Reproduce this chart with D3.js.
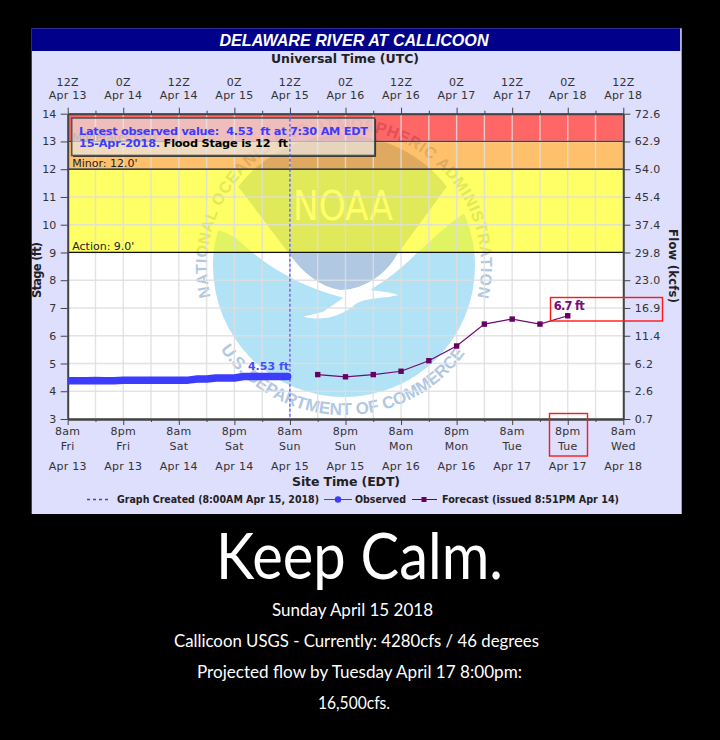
<!DOCTYPE html>
<html><head><meta charset="utf-8">
<script src="https://cdnjs.cloudflare.com/ajax/libs/d3/7.8.5/d3.min.js"></script>
<style>
html,body{margin:0;padding:0;background:#000;overflow:hidden}
svg{display:block}
text{font-family:"DejaVu Sans",sans-serif}
.tk text{font-size:11px;fill:#333}
.tk line,.tk path{stroke:#444}
.b{font-weight:bold}
</style></head><body><div id="c"></div>
<script>
// ---- data ----
const stageTicks=[3,4,5,6,7,8,9,10,11,12,13,14];
const flowLabels=['0.7','2.6','6.2','11.4','16.9','23.0','29.8','37.4','45.4','54.0','62.9','72.6'];
const majorHours=[0,12,24,36,48,60,72,84,96,108,120];
const minorHours=[6,18,30,42,54,66,78,90,102,114];
const utcHourLabels=['12Z','0Z','12Z','0Z','12Z','0Z','12Z','0Z','12Z','0Z','12Z'];
const utcDateLabels=['Apr 13','Apr 14','Apr 14','Apr 15','Apr 15','Apr 16','Apr 16','Apr 17','Apr 17','Apr 18','Apr 18'];
const siteHourLabels=['8am','8pm','8am','8pm','8am','8pm','8am','8pm','8am','8pm','8am'];
const siteDayLabels=['Fri','Fri','Sat','Sat','Sun','Sun','Mon','Mon','Tue','Tue','Wed'];
const siteDateLabels=['Apr 13','Apr 13','Apr 14','Apr 14','Apr 15','Apr 15','Apr 16','Apr 16','Apr 17','Apr 17','Apr 18'];
const observedHours=[0,2,4,6,8,10,12,14,16,18,20,22,24,26,28,30,32,34,36,38,40,42,44,46,47.5];
const observedStage=[4.38,4.38,4.38,4.39,4.38,4.38,4.4,4.4,4.4,4.4,4.4,4.4,4.4,4.4,4.44,4.44,4.48,4.48,4.48,4.53,4.53,4.53,4.53,4.53,4.53];
const forecastHours=[54,60,66,72,78,84,90,96,102,108];
const forecastStage=[4.6,4.52,4.6,4.72,5.1,5.63,6.42,6.6,6.42,6.72];
const bands=[{from:9,to:12,c:'rgba(255,255,0,.6)'},{from:12,to:13,c:'rgba(255,150,10,.6)'},{from:13,to:14,c:'rgba(255,0,0,.6)'}];
const captionLines=['Sunday April 15 2018','Callicoon USGS - Currently: 4280cfs / 46 degrees','Projected flow by Tuesday April 17 8:00pm:','16,500cfs.'];

// ---- layout ----
const W=720,H=740,L=67.7,R=623.3,T=113.7,B=419;
const x=d3.scaleLinear().domain([0,120]).range([L,R]);
const y=d3.scaleLinear().domain([3,14]).range([B,T]);
const svg=d3.select('#c').append('svg').attr('width',W).attr('height',H);
svg.append('rect').attr('width',W).attr('height',H).attr('fill','#000');
svg.append('rect').attr('x',31.7).attr('y',28.3).attr('width',650).attr('height',485.7).attr('fill','#dedefd');
svg.append('rect').attr('x',31.7).attr('y',28.3).attr('width',648.5).attr('height',22.7).attr('fill','#00008a');
svg.append('text').attr('x',354).attr('y',45.5).attr('text-anchor','middle').attr('fill','#fff')
  .style('font-family','"Liberation Sans"').style('font-weight','bold').style('font-style','italic').style('font-size','16px')
  .attr('textLength',269).attr('lengthAdjust','spacingAndGlyphs').text('DELAWARE RIVER AT CALLICOON');
svg.append('text').attr('class','b').attr('x',345).attr('y',63).attr('text-anchor','middle').attr('fill','#222')
  .style('font-size','12.5px').attr('textLength',148).text('Universal Time (UTC)');

// plot background + watermark
svg.append('rect').attr('x',L).attr('y',T).attr('width',R-L).attr('height',B-T).attr('fill','#fff');
const cx=344,cy=266,r=131;
const zp=(a,b)=>[190+a/3,115+b/3];
const P=(a,b)=>zp(a,b).map(v=>v.toFixed(1)).join(',');
const logo=svg.append('g');
logo.append('circle').attr('cx',cx).attr('cy',cy).attr('r',r).attr('fill','#b2e2f5');
logo.append('path').attr('fill','#fff').attr('d',
 `M${P(75,345)} C${P(125,350)} ${P(155,385)} ${P(190,415)} C${P(240,455)} ${P(330,515)} ${P(460,548)}`+
 ` L${P(400,590)} L${P(340,605)} C${P(390,618)} ${P(450,610)} ${P(500,565)} C${P(530,548)} ${P(590,550)} ${P(625,540)}`+
 ` C${P(600,530)} ${P(570,530)} ${P(540,525)} C${P(600,490)} ${P(650,445)} ${P(680,415)} C${P(730,370)} ${P(780,320)} ${P(832,290)}`+
 ` A${r} ${r} 0 0 0 ${P(75,345)} Z`);
logo.append('path').attr('fill','#b0c8e2').attr('d',
 `M${P(145,215)} A${r} ${r} 0 0 1 ${P(770,215)} L${P(620,420)} C${P(580,490)} ${P(510,525)} ${P(450,525)} C${P(390,515)} ${P(340,475)} ${P(300,420)} Z`);
logo.append('text').attr('x',343).attr('y',220).attr('text-anchor','middle').attr('fill','#fff')
  .style('font-family','"DejaVu Sans"').style('font-size','41px')
  .attr('textLength',100).attr('lengthAdjust','spacingAndGlyphs').text('NOAA');
const pt=(ang,rad)=>[cx+rad*Math.cos(ang*Math.PI/180),cy+rad*Math.sin(ang*Math.PI/180)].map(v=>v.toFixed(1)).join(',');
const defs=svg.append('defs');
defs.append('path').attr('id','arcTop').attr('d',`M${pt(167,137)} A137 137 0 1 1 ${pt(14,137)}`);
defs.append('path').attr('id','arcBot').attr('d',`M${pt(146,149)} A149 149 0 0 0 ${pt(35,149)}`);
defs.append('clipPath').attr('id','plot').append('rect').attr('x',L).attr('y',T).attr('width',R-L+4).attr('height',B-T);
const ring=(id,t,len,fs)=>logo.append('text').attr('fill','#b0c8e2').style('font-family','"Liberation Sans"').style('font-weight','bold').style('font-size',fs+'px')
  .append('textPath').attr('href','#'+id).attr('textLength',len).attr('lengthAdjust','spacing').text(t);
ring('arcTop','NATIONAL OCEANIC AND ATMOSPHERIC ADMINISTRATION',Math.PI*137*207/180-2,16);
ring('arcBot','U.S. DEPARTMENT OF COMMERCE',Math.PI*149*111/180-2,17);

// flood bands (translucent, over the watermark)
svg.append('g').selectAll('rect').data(bands).join('rect')
  .attr('x',L).attr('width',R-L).attr('y',d=>y(d.to)).attr('height',d=>y(d.from)-y(d.to)).attr('fill',d=>d.c);

// grid
const grid=svg.append('g').attr('stroke','rgba(222,222,222,.85)').attr('stroke-width',1.4);
grid.selectAll('.v').data(majorHours.concat(minorHours)).join('line').attr('x1',d=>x(d)).attr('x2',d=>x(d)).attr('y1',T).attr('y2',B);
grid.selectAll('.h').data(stageTicks).join('line').attr('y1',d=>y(d)).attr('y2',d=>y(d)).attr('x1',L).attr('x2',R);

// stage lines
[[9,'#111'],[12,'#111'],[13,'#444']].forEach(([s,c])=>svg.append('line').attr('x1',L).attr('x2',R).attr('y1',y(s)).attr('y2',y(s)).attr('stroke',c).attr('stroke-width',1.2));
const stLab=(t,s,c)=>svg.append('text').attr('x',L+4.5).attr('y',y(s)-2.5).attr('fill',c).style('font-size','11px').text(t);
stLab("Moderate: 13.0'",13,'#555').attr('y',y(13)-.5);
stLab("Minor: 12.0'",12,'#222');
stLab("Action: 9.0'",9,'#222');

// axes
const tk=(g,ax)=>{const s=svg.append('g').attr('class','tk').attr('transform',g).call(ax);s.select('.domain').attr('stroke','#555').attr('stroke-width',2);return s;};
tk(`translate(0,${T})`,d3.axisTop(x).tickValues(minorHours).tickSize(3).tickSizeOuter(0).tickFormat(''));
tk(`translate(0,${B})`,d3.axisBottom(x).tickValues(minorHours).tickSize(3).tickSizeOuter(0).tickFormat(''));
tk(`translate(0,${T})`,d3.axisTop(x).tickValues(majorHours).tickSize(6).tickSizeOuter(0).tickFormat('')).select('.domain').attr('stroke','#333').attr('stroke-width',1.4);
tk(`translate(0,${B})`,d3.axisBottom(x).tickValues(majorHours).tickSize(6).tickSizeOuter(0).tickFormat(''));
const yl=tk(`translate(${L},0)`,d3.axisLeft(y).tickValues(stageTicks).tickSize(7).tickSizeOuter(0).tickFormat(d3.format('d')));
yl.selectAll('text').attr('x',-11.5);
const yr=tk(`translate(${R},0)`,d3.axisRight(y).tickValues(stageTicks).tickSize(7).tickSizeOuter(0).tickFormat((d,i)=>flowLabels[i]));
yr.selectAll('text').attr('x',11.5).attr('letter-spacing','.3');

const row=(labels,yy)=>svg.append('g').selectAll('text').data(labels).join('text')
  .attr('x',(d,i)=>x(majorHours[i])).attr('y',yy).attr('text-anchor','middle').attr('fill','#333').style('font-size','11px').attr('letter-spacing','.25').text(d=>d);
row(utcHourLabels,86);row(utcDateLabels,99);
row(siteHourLabels,435);row(siteDayLabels,450);row(siteDateLabels,470);

svg.append('text').attr('class','b').attr('x',346).attr('y',486).attr('text-anchor','middle').attr('fill','#222').style('font-size','12.5px').attr('textLength',108).text('Site Time (EDT)');
svg.append('text').attr('class','b').attr('transform','translate(40.5,270) rotate(-90)').attr('text-anchor','middle').attr('fill','#222').style('font-size','11.5px').attr('textLength',56).text('Stage (ft)');
svg.append('text').attr('class','b').attr('transform','translate(669,266) rotate(90)').attr('text-anchor','middle').attr('fill','#222').style('font-size','11.5px').attr('textLength',74).text('Flow (kcfs)');

// observed
const line=d3.line().x(d=>x(d[0])).y(d=>y(d[1]));
svg.append('path').attr('d',line(d3.zip(observedHours,observedStage))).attr('fill','none').attr('stroke','#3c3cff').attr('stroke-width',7.5).attr('stroke-linecap','round').attr('stroke-linejoin','round').attr('clip-path','url(#plot)');
svg.append('text').attr('class','b').attr('x',x(48)-1).attr('y',y(4.53)-7).attr('text-anchor','end').attr('fill','#4a4aff').style('font-size','11px').text('4.53 ft');

// forecast
const fc=d3.zip(forecastHours,forecastStage);
svg.append('path').attr('d',line(fc)).attr('fill','none').attr('stroke','#700a70').attr('stroke-width',1.2);
svg.append('g').selectAll('rect').data(fc).join('rect').attr('x',d=>x(d[0])-2.7).attr('y',d=>y(d[1])-2.7).attr('width',5.4).attr('height',5.4).attr('fill','#660066');
svg.append('text').attr('class','b').attr('x',x(108)-14).attr('y',y(6.72)-6).attr('fill','#7a0a7a').style('font-size','11.5px').attr('textLength',31).text('6.7 ft');

// info box
svg.append('rect').attr('x',71.7).attr('y',118).attr('width',303).attr('height',37.5).attr('fill','rgba(232,232,232,.67)').attr('stroke','#555').attr('stroke-width',1.6);
svg.append('path').attr('d','M375.6,119V156.4H73').attr('fill','none').attr('stroke','#333').attr('stroke-width',1);
svg.append('text').attr('class','b').attr('x',79).attr('y',135).attr('fill','#3c3cff').style('font-size','11.3px').style('white-space','pre').attr('textLength',289).text('Latest observed value:  4.53  ft at 7:30 AM EDT');
const t2=svg.append('text').attr('class','b').attr('x',79).attr('y',147).style('font-size','11.3px').style('white-space','pre').attr('textLength',209);
t2.append('tspan').attr('fill','#3c3cff').text('15-Apr-2018.');
t2.append('tspan').attr('fill','#000').text(' Flood Stage is 12  ft');

// graph-created line
svg.append('line').attr('x1',x(48)).attr('x2',x(48)).attr('y1',T).attr('y2',B).attr('stroke','#4040ff').attr('stroke-width',1.1).attr('stroke-dasharray','3,2');

// red highlight boxes
const red=(a,b,c,d)=>svg.append('rect').attr('x',a).attr('y',b).attr('width',c-a).attr('height',d-b).attr('fill','none').attr('stroke','#ff1818').attr('stroke-width',1.4);
red(550.5,297.5,662.5,321);red(549.5,413.5,587.5,456);

// legend
const lg=svg.append('g');
const lt=(t,a,w)=>lg.append('text').attr('class','b').attr('x',a).attr('y',503).attr('fill','#222').style('font-size','10.5px').attr('textLength',w).attr('lengthAdjust','spacingAndGlyphs').text(t);
lg.append('line').attr('x1',87).attr('x2',111).attr('y1',499.5).attr('y2',499.5).attr('stroke','#3c3cff').attr('stroke-width',1.3).attr('stroke-dasharray','3,3');
lt('Graph Created (8:00AM Apr 15, 2018)',117,202);
lg.append('line').attr('x1',324).attr('x2',352).attr('y1',499.5).attr('y2',499.5).attr('stroke','#3c3cff');
lg.append('circle').attr('cx',338).attr('cy',499.5).attr('r',3.2).attr('fill','#3c3cff');
lt('Observed',355,51);
lg.append('line').attr('x1',412).attr('x2',437).attr('y1',499.5).attr('y2',499.5).attr('stroke','#660066');
lg.append('rect').attr('x',421.5).attr('y',497).attr('width',5).attr('height',5).attr('fill','#660066');
lt('Forecast (issued 8:51PM Apr 14)',442,177);

// caption
const cap=(t,a,w,b,fs)=>svg.append('text').attr('x',a).attr('y',b).attr('fill','#fff').style('font-family','Lato').style('font-size',fs+'px').attr('textLength',w).attr('lengthAdjust','spacingAndGlyphs').text(t);
cap('Keep Calm.',216,287,579,64);
cap(captionLines[0],272,161,616,17);
cap(captionLines[1],174,365,647,17);
cap(captionLines[2],197,325,678,17);
cap(captionLines[3],318,72,709,17);
</script></body></html>
